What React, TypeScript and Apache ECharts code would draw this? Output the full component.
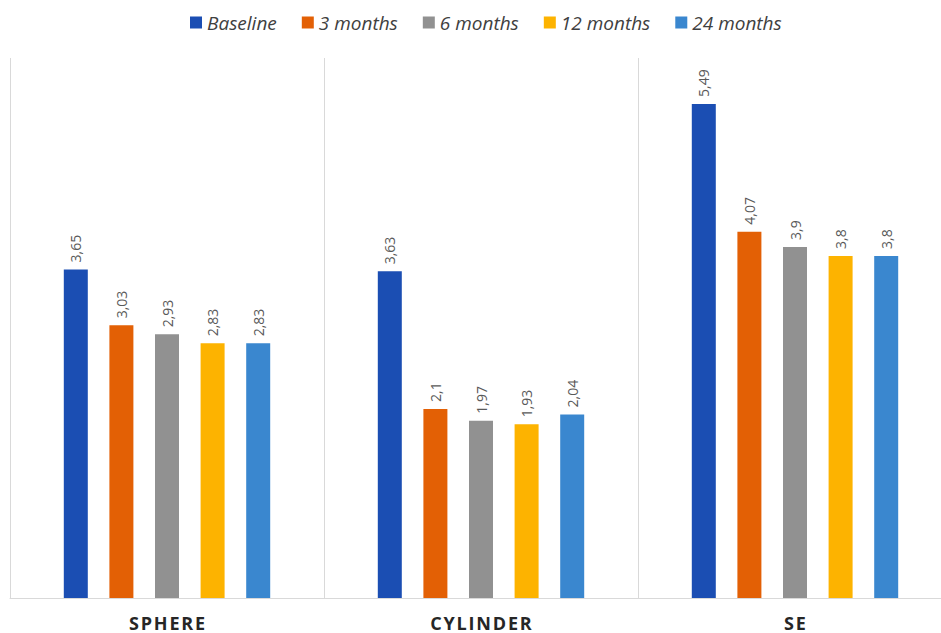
import React, { useEffect, useRef } from "react";
import * as echarts from "echarts";

const categories = ["SPHERE", "CYLINDER", "SE"];
const seriesNames = ["Baseline", "3 months", "6 months", "12 months", "24 months"];
const baseline = [3.65, 3.63, 5.49];
const months3 = [3.03, 2.1, 4.07];
const months6 = [2.93, 1.97, 3.9];
const months12 = [2.83, 1.93, 3.8];
const months24 = [2.83, 2.04, 3.8];
const colors = ["#1B4EB3", "#E36005", "#919191", "#FDB300", "#3A87CF"];

export default function App() {
  const ref = useRef<HTMLDivElement>(null);
  useEffect(() => {
    if (!ref.current) return;
    const chart = echarts.init(ref.current, undefined, { renderer: "svg" });
    const data = [baseline, months3, months6, months12, months24];
    chart.setOption({
      animation: false,
      backgroundColor: "#ffffff",
      color: colors,
      legend: {
        top: 8,
        left: 185,
        itemWidth: 12,
        itemHeight: 12,
        itemGap: 25,
        icon: "rect",
        textStyle: {
          fontFamily: "Open Sans",
          fontStyle: "italic",
          fontSize: 19,
          color: "#404040",
        },
        data: seriesNames,
      },
      grid: { left: 10, top: 58, width: 942, height: 540, containLabel: false },
      xAxis: {
        type: "category",
        data: categories,
        axisLine: { lineStyle: { color: "#d9d9d9", width: 1 } },
        axisTick: { show: false },
        splitLine: { show: true, lineStyle: { color: "#d9d9d9", width: 1 } },
        axisLabel: {
          margin: 17,
          fontFamily: "Open Sans",
          fontWeight: "bold",
          fontSize: 18,
          lineHeight: 15,
          color: "#262626",
          formatter: (v: string) => v.split("").join("\u200A"),
        },
      },
      yAxis: {
        type: "value",
        min: 0,
        max: 6,
        show: false,
        splitLine: { show: false },
      },
      series: seriesNames.map((name, i) => ({
        name,
        type: "bar",
        data: data[i],
        barWidth: 24,
        barGap: "90%",
        itemStyle: { color: colors[i] },
        label: {
          show: true,
          position: "top",
          rotate: 90,
          align: "left",
          verticalAlign: "middle",
          distance: 7,
          fontFamily: "Open Sans",
          fontSize: 14,
          color: "#595959",
          formatter: (p: any) => String(p.value).replace(".", ","),
        },
      })),
    });
    return () => chart.dispose();
  }, []);
  return (
    <div style={{ position: "absolute", left: 0, top: 0, width: 941, height: 633, overflow: "hidden", background: "#fff" }}>
      <div ref={ref} style={{ width: 970, height: 633 }} />
    </div>
  );
}
